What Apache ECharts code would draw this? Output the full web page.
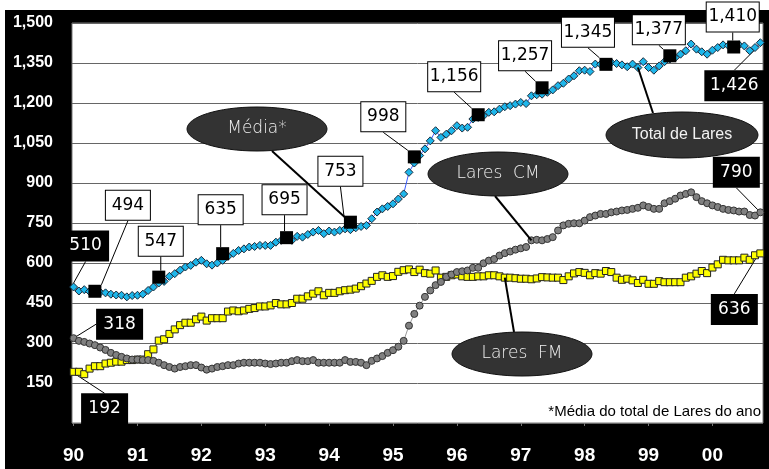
<!DOCTYPE html>
<html>
<head>
<meta charset="utf-8">
<script src="https://cdn.jsdelivr.net/npm/echarts@6/dist/echarts.min.js"></script>
<style>
  html, body { margin: 0; padding: 0; background: #fff; }
  #frame { position: absolute; left: 5px; top: 10px; width: 764px; height: 459px; background: #000; }
  #chart { position: absolute; left: 0; top: 0; width: 769px; height: 469px; }
</style>
</head>
<body>
<div id="frame"></div>
<div id="chart"></div>
<script>
// dados mensais, jan/1990 .. out/2000
const yearLabels = ['90', '91', '92', '93', '94', '95', '96', '97', '98', '99', '00'];

const totalLares = [
  510, 495, 500, 493, 492, 490, 488, 483, 480, 479, 473, 478,
  479, 483, 497, 510, 525, 531, 550, 560, 573, 585, 591, 603,
  610, 597, 592, 600, 610, 625, 636, 647, 653, 660, 662, 666,
  666, 666, 678, 685, 690, 685, 700, 697, 707, 716, 722, 710,
  720, 716, 722, 728, 725, 732, 737, 741, 766, 791, 803, 812,
  822, 840, 859, 940, 975, 1003, 1028, 1058, 1096, 1071, 1083, 1096,
  1115, 1106, 1109, 1140, 1146, 1152, 1165, 1167, 1177, 1186, 1190, 1196,
  1202, 1198, 1227, 1231, 1233, 1240, 1249, 1265, 1274, 1290, 1302, 1321,
  1323, 1318, 1346, 1345, 1350, 1352, 1348, 1343, 1336, 1346, 1333, 1355,
  1333, 1323, 1339, 1355, 1365, 1370, 1383, 1396, 1421, 1402, 1392, 1383,
  1398, 1408, 1418, 1415, 1412, 1418, 1414, 1396, 1408, 1426
];

const laresCM = [
  318, 308, 304, 298, 292, 283, 274, 263, 255, 248, 242, 238,
  238, 236, 236, 233, 226, 217, 210, 204, 210, 213, 217, 217,
  208, 200, 204, 210, 213, 217, 217, 223, 226, 226, 226, 226,
  223, 221, 223, 226, 226, 232, 236, 232, 232, 236, 226, 226,
  226, 226, 226, 236, 229, 229, 226, 217, 233, 242, 251, 263,
  273, 286, 308, 365, 409, 440, 473, 497, 517, 529, 548, 557,
  566, 569, 572, 582, 582, 599, 609, 615, 628, 637, 643, 650,
  655, 660, 685, 687, 685, 690, 697, 722, 741, 747, 749, 749,
  759, 772, 778, 784, 784, 790, 793, 797, 799, 803, 807, 816,
  810, 803, 803, 824, 832, 841, 853, 859, 865, 847, 832, 824,
  816, 810, 803, 799, 797, 793, 793, 780, 778, 790
];

const laresFM = [
  192, 192, 183, 204, 213, 213, 223, 226, 230, 230, 236, 236,
  238, 238, 258, 276, 309, 314, 334, 351, 367, 376, 376, 389,
  399, 384, 393, 393, 393, 418, 422, 419, 422, 428, 431, 437,
  437, 441, 450, 445, 445, 450, 466, 466, 475, 485, 494, 479,
  488, 488, 494, 498, 500, 504, 513, 523, 533, 548, 554, 548,
  551, 567, 573, 576, 566, 575, 562, 560, 572, 545, 548, 554,
  557, 550, 548, 548, 550, 550, 554, 554, 550, 545, 545, 543,
  541, 541, 539, 542, 547, 546, 545, 545, 536, 550, 561, 566,
  563, 554, 562, 560, 570, 566, 545, 537, 541, 535, 525, 537,
  522, 522, 532, 528, 528, 528, 528, 545, 550, 560, 570, 562,
  583, 595, 612, 610, 610, 610, 620, 612, 629, 636
];

// média anual do total de lares (mês de referência de cada ano)
const mediaAnual = [494, 547, 635, 695, 753, 998, 1156, 1257, 1345, 1377, 1410];
const mediaMes = [4, 16, 28, 40, 52, 64, 76, 88, 100, 112, 124];

// deslocamento das caixas de rótulo (px) em relação ao ponto
const mediaOffsets = [
  [33, -86], [2, -36], [-2, -44], [-2, -38], [-10, -51], [-31, -40],
  [-24, -38], [-17, -32], [-18, -32], [-11, -26], [-1, -30]
];
const totalOffsets = { first: [12, -41], last: [-26, 43] };
const cmOffsets = { first: [46, -14], last: [-24, -40] };
const fmOffsets = { first: [31, 37], last: [-26, 56] };

const LAST = totalLares.length - 1;
const boxFont = '"DejaVu Sans", sans-serif';
const fmt = v => Number(v).toLocaleString('en-US');

const whiteBox = {
  show: true,
  position: 'inside',
  formatter: p => fmt(p.value[1]),
  color: '#000',
  fontFamily: boxFont,
  fontWeight: 'normal',
  fontSize: 17,
  lineHeight: 19,
  backgroundColor: '#fff',
  borderColor: '#000',
  borderWidth: 1,
  padding: [5, 3],
  align: 'center'
};
const blackBox = Object.assign({}, whiteBox, {
  color: '#fff',
  backgroundColor: '#000',
  borderColor: '#000'
});

function endLabelData(values) {
  return values.map((v, i) => {
    if (i === 0 || i === LAST) {
      return { value: [i, v], label: Object.assign({}, blackBox, { width: v >= 1000 ? 52 : 39 }) };
    }
    return [i, v];
  });
}

function endLayout(off) {
  return p => {
    if (p.dataIndex === 0) return { dx: off.first[0], dy: off.first[1] };
    if (p.dataIndex === LAST) return { dx: off.last[0], dy: off.last[1] };
    return {};
  };
}

const leader = { show: true, lineStyle: { color: '#000', width: 1, opacity: 1 } };

var chartDom = document.getElementById('chart');
var myChart = echarts.init(chartDom, null, { width: 769, height: 469 });

const option = {
  animation: false,
  backgroundColor: 'transparent',
  grid: {
    left: 72, right: 6, top: 23, bottom: 46,
    show: true,
    backgroundColor: '#fff',
    borderColor: '#777',
    borderWidth: 1
  },
  xAxis: {
    type: 'value',
    min: -0.3,
    max: LAST + 0.5,
    axisLine: { show: false },
    splitLine: { show: false },
    axisTick: {
      show: true,
      length: 3,
      lineStyle: { color: '#777' },
      customValues: yearLabels.map((_, i) => i * 12)
    },
    axisLabel: {
      customValues: yearLabels.map((_, i) => i * 12),
      formatter: v => yearLabels[Math.round(v / 12)],
      color: '#fff',
      fontFamily: '"Liberation Sans", Arial, sans-serif',
      fontWeight: 'bold',
      fontSize: 19,
      margin: 23
    }
  },
  yAxis: {
    type: 'value',
    min: 0,
    max: 1500,
    interval: 150,
    axisLine: { show: false },
    axisTick: { show: false },
    splitLine: { lineStyle: { color: '#666', width: 1 } },
    axisLabel: {
      showMinLabel: false,
      formatter: v => fmt(v),
      color: '#fff',
      fontFamily: '"Liberation Sans", Arial, sans-serif',
      fontWeight: 'bold',
      fontSize: 16,
      margin: 19
    }
  },
  series: [
    {
      name: 'Lares FM',
      type: 'line',
      data: endLabelData(laresFM),
      symbol: 'rect',
      symbolSize: 7,
      lineStyle: { color: '#777', width: 1 },
      itemStyle: { color: '#ffff00', borderColor: '#222', borderWidth: 1 },
      labelLayout: endLayout(fmOffsets),
      labelLine: leader,
      z: 2
    },
    {
      name: 'Lares CM',
      type: 'line',
      data: endLabelData(laresCM),
      symbol: 'circle',
      symbolSize: 7,
      lineStyle: { color: '#999', width: 1 },
      itemStyle: { color: '#808080', borderColor: '#333', borderWidth: 1 },
      labelLayout: endLayout(cmOffsets),
      labelLine: leader,
      z: 3
    },
    {
      name: 'Total de Lares',
      type: 'line',
      data: endLabelData(totalLares),
      symbol: 'diamond',
      symbolSize: 8,
      lineStyle: { color: '#3a5cff', width: 1 },
      itemStyle: { color: '#1eb6ea', borderColor: '#1a2a3a', borderWidth: 1 },
      labelLayout: endLayout(totalOffsets),
      labelLine: leader,
      z: 4
    },
    {
      name: 'Média',
      type: 'scatter',
      data: mediaAnual.map((v, i) => ({
        value: [mediaMes[i], v],
        label: Object.assign({}, whiteBox, { width: v >= 1000 ? 46 : 38 })
      })),
      symbol: 'rect',
      symbolSize: 13,
      itemStyle: { color: '#000', opacity: 1 },
      labelLayout: p => {
        const o = mediaOffsets[p.dataIndex];
        return { dx: o[0], dy: o[1] };
      },
      labelLine: leader,
      z: 5
    }
  ]
};

myChart.setOption(option);

// balões (elipses) com linha até um ponto da série
const callouts = [
  { text: 'Média*', cx: 257, cy: 129, rx: 70, ry: 22, from: [272, 151],
    point: [mediaMes[4], mediaAnual[4]], font: '300 17px "DejaVu Sans"' },
  { text: 'Lares  CM', cx: 498, cy: 174, rx: 70, ry: 22, from: [495, 196],
    point: [86, laresCM[86]], font: '300 17px "DejaVu Sans"' },
  { text: 'Total de Lares', cx: 682, cy: 135, rx: 76, ry: 23, from: [653, 113],
    point: [106, totalLares[106]], font: '16px "Liberation Sans"' },
  { text: 'Lares  FM', cx: 522, cy: 354, rx: 70, ry: 22, from: [514, 332],
    point: [81, laresFM[81]], font: '300 17px "DejaVu Sans"' }
];

const elements = [];
callouts.forEach(c => {
  const to = myChart.convertToPixel({ gridIndex: 0 }, c.point);
  elements.push({
    type: 'line', z: 50,
    shape: { x1: c.from[0], y1: c.from[1], x2: to[0], y2: to[1] },
    style: { stroke: '#000', lineWidth: 2 }
  });
  elements.push({
    type: 'ellipse', z: 51,
    shape: { cx: c.cx, cy: c.cy, rx: c.rx, ry: c.ry },
    style: { fill: '#333', stroke: '#111', lineWidth: 1 }
  });
  elements.push({
    type: 'text', z: 52,
    style: {
      text: c.text, x: c.cx, y: c.cy, font: c.font, fill: '#f2f2f2',
      align: 'center', verticalAlign: 'middle',
      textAlign: 'center', textVerticalAlign: 'middle'
    }
  });
});
elements.push({
  type: 'text', z: 52,
  style: {
    text: '*Média do total de Lares do ano', x: 761, y: 419,
    font: '15px "Liberation Sans"', fill: '#000',
    align: 'right', verticalAlign: 'bottom',
    textAlign: 'right', textVerticalAlign: 'bottom'
  }
});

myChart.setOption({ graphic: { elements: elements } });
</script>
</body>
</html>
